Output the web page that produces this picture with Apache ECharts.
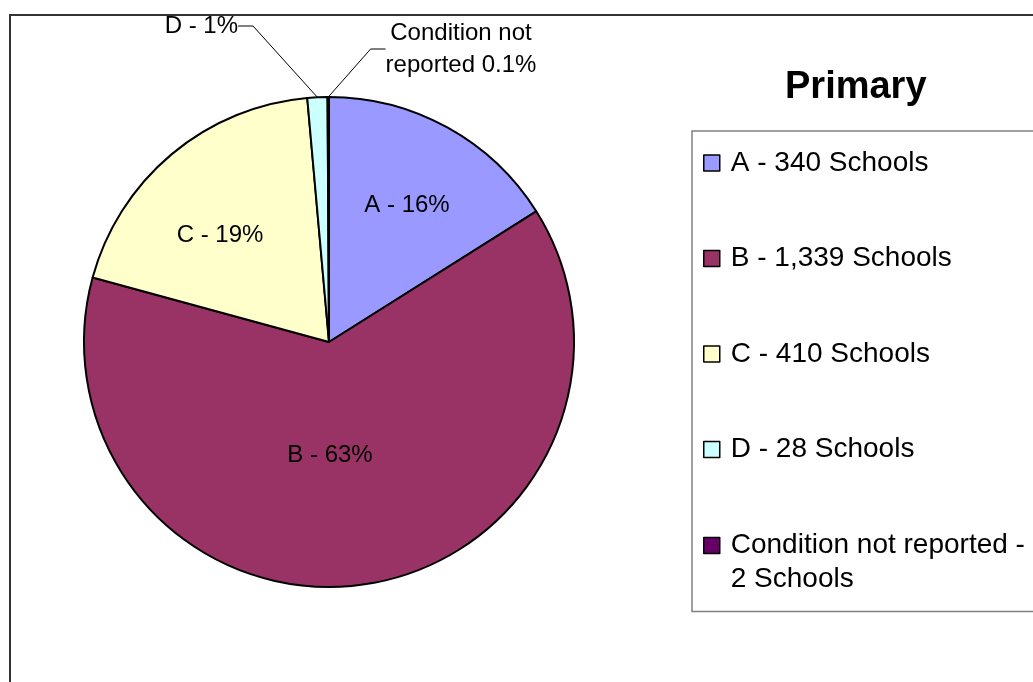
<!DOCTYPE html>
<html>
<head>
<meta charset="utf-8">
<title>Primary</title>
<script src="https://cdn.jsdelivr.net/npm/echarts@6/dist/echarts.min.js"></script>
<style>
  html, body { margin: 0; padding: 0; background: #fff; }
  #chart { width: 1033px; height: 682px; }
</style>
</head>
<body>
<div id="chart"></div>
<script>
const grades = ['A', 'B', 'C', 'D', 'Condition not reported'];
const schools = [340, 1339, 410, 28, 2];
const sliceLabels = ['A - 16%', 'B - 63%', 'C - 19%', 'D - 1%', 'Condition not\nreported 0.1%'];
const legendNames = [
  'A - 340 Schools',
  'B - 1,339 Schools',
  'C - 410 Schools',
  'D - 28 Schools',
  'Condition not reported -\n2 Schools'
];
const colors = ['#9999FF', '#993366', '#FFFFCC', '#CCFFFF', '#660066'];

const font = "'Liberation Sans', Arial, sans-serif";

// where the labels sit (Excel "best fit" look)
const labelSpots = [
  { x: 407, y: 205, align: 'center' },
  { x: 330, y: 455, align: 'center' },
  { x: 220, y: 235, align: 'center' },
  { x: 238, y: 26, align: 'right' },
  { x: 461, y: 49, align: 'center' }
];

const chart = echarts.init(document.getElementById('chart'));

// first line of each legend entry stays level with its square,
// a wrapped second line hangs below it
function legendText(name) {
  const lines = name.split('\n');
  if (lines.length === 1) return '{a|' + name + '}';
  return '{a|' + lines[0] + '}\n{b|' + lines[1] + '}';
}

const option = {
  animation: false,
  title: {
    text: 'Primary',
    left: 785,
    top: 69,
    padding: 0,
    textStyle: { fontFamily: font, fontSize: 38, fontWeight: 'bold', color: '#000' }
  },
  graphic: [{
    type: 'rect',
    z: -1,
    shape: { x: 10, y: 15, width: 1200, height: 900 },
    style: { fill: null, stroke: '#333', lineWidth: 2 }
  }],
  legend: {
    orient: 'vertical',
    left: 692,
    top: 131,
    padding: [18, 20, 18, 11],
    itemGap: 67.5,
    itemWidth: 16,
    itemHeight: 16,
    icon: 'rect',
    borderColor: '#808080',
    borderWidth: 1.5,
    itemStyle: { borderColor: '#000', borderWidth: 1.5 },
    formatter: legendText,
    textStyle: {
      fontFamily: font,
      fontSize: 28,
      color: '#000',
      padding: [0, 0, 0, 6],
      rich: {
        a: { fontFamily: font, fontSize: 28, lineHeight: 68, color: '#000' },
        b: { fontFamily: font, fontSize: 28, lineHeight: 1, color: '#000' }
      }
    },
    data: legendNames
  },
  series: [{
    type: 'pie',
    center: [329, 342],
    radius: 245,
    startAngle: 90,
    clockwise: true,
    avoidLabelOverlap: false,
    itemStyle: { borderColor: '#000', borderWidth: 2 },
    emphasis: { disabled: true },
    label: {
      show: true,
      fontFamily: font,
      fontSize: 24,
      lineHeight: 32,
      color: '#000',
      formatter: p => sliceLabels[p.dataIndex]
    },
    labelLine: {
      show: true,
      length: 10,
      length2: 15,
      lineStyle: { color: '#000', width: 1 }
    },
    labelLayout: function (params) {
      const s = labelSpots[params.dataIndex];
      return { x: s.x, y: s.y, align: s.align, verticalAlign: 'middle' };
    },
    data: schools.map((v, i) => ({
      name: legendNames[i],
      value: v,
      itemStyle: { color: colors[i] },
      label: { position: i < 3 ? 'inside' : 'outside', align: 'center' },
      labelLine: { show: i >= 3 }
    }))
  }]
};

chart.setOption(option);
</script>
</body>
</html>
